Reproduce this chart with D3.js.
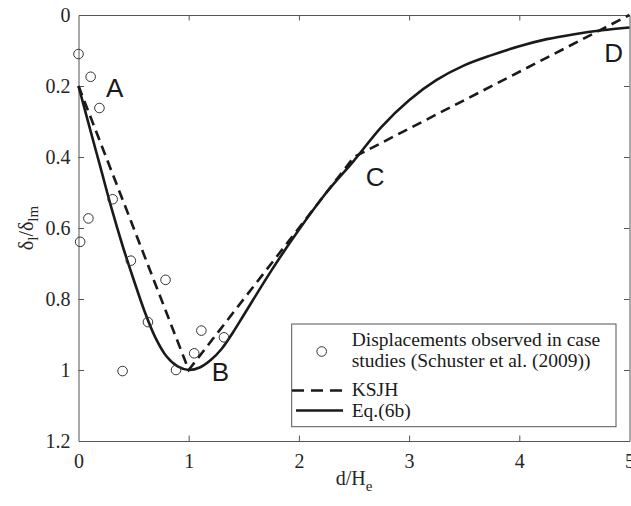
<!DOCTYPE html>
<html>
<head>
<meta charset="utf-8">
<script src="https://cdn.jsdelivr.net/npm/d3@7"></script>
<style>
  body { margin: 0; background: #fff; }
  svg { display: block; }
</style>
</head>
<body>
<div id="chart"></div>
<script>
// observed case-study displacements (Schuster et al. 2009)
const obsX = [0.0, 0.11, 0.19, 0.31, 0.09, 0.015, 0.475, 0.79, 0.63, 1.115, 1.32, 1.05, 0.885, 0.40];
const obsY = [0.11, 0.174, 0.262, 0.519, 0.573, 0.639, 0.692, 0.746, 0.865, 0.889, 0.908, 0.953, 1.0, 1.003];

// KSJH trilinear envelope
const ksjhX = [0, 1, 2.5, 5];
const ksjhY = [0.2, 1, 0.4, 0];

// Eq.(6b) curve
const eqX = [0, 0.1, 0.2, 0.3, 0.4, 0.5, 0.6, 0.7, 0.8, 0.9, 1.0, 1.1, 1.2, 1.3, 1.4, 1.5, 1.75, 2.0, 2.25, 2.5, 2.75, 3.0, 3.25, 3.5, 3.75, 4.0, 4.25, 4.5, 4.75, 5.0];
const eqY = [0.2, 0.316, 0.43, 0.545, 0.65, 0.745, 0.835, 0.91, 0.962, 0.99, 1.0, 0.993, 0.972, 0.94, 0.895, 0.845, 0.72, 0.605, 0.5, 0.41, 0.315, 0.24, 0.183, 0.142, 0.113, 0.088, 0.068, 0.054, 0.043, 0.035];

// point labels
const annText = ["A", "B", "C", "D"];
const annX = [0.25, 1.21, 2.606, 4.77];
const annY = [0.231, 1.03, 0.481, 0.133];

const xTicks = [0, 1, 2, 3, 4, 5];
const yTicks = [0, 0.2, 0.4, 0.6, 0.8, 1, 1.2];

const legendLabels = [["Displacements observed in case", "studies (Schuster et al. (2009))"], ["KSJH"], ["Eq.(6b)"]];

const width = 631, height = 506;
const mLeft = 78.5, mRight = 629.5, mTop = 15, mBottom = 441;
const axisColor = "#555";
const lineColor = "#1a1a1a";
const serif = "'Liberation Serif', 'Times New Roman', Times, 'DejaVu Serif', serif";

const x = d3.scaleLinear().domain([0, 5]).range([mLeft, mRight]);
const y = d3.scaleLinear().domain([0, 1.2]).range([mTop, mBottom]);

const svg = d3.select("#chart").append("svg")
  .attr("width", width)
  .attr("height", height);

// axes (MATLAB-style box with inward ticks)
const fmt = d => d3.format("~g")(d);
const tick = 5.5;

const gx = svg.append("g").attr("transform", `translate(0,${mBottom})`)
  .call(d3.axisBottom(x).tickValues(xTicks).tickFormat(fmt).tickSizeInner(-tick).tickSizeOuter(0).tickPadding(13));
const gxTop = svg.append("g").attr("transform", `translate(0,${mTop})`)
  .call(d3.axisTop(x).tickValues(xTicks).tickFormat("").tickSizeInner(-tick).tickSizeOuter(0));
const gy = svg.append("g").attr("transform", `translate(${mLeft},0)`)
  .call(d3.axisLeft(y).tickValues(yTicks).tickFormat(fmt).tickSizeInner(-tick).tickSizeOuter(0).tickPadding(8));
const gyRight = svg.append("g").attr("transform", `translate(${mRight},0)`)
  .call(d3.axisRight(y).tickValues(yTicks).tickFormat("").tickSizeInner(-tick).tickSizeOuter(0));

[gx, gxTop, gy, gyRight].forEach(g => {
  g.attr("font-family", serif).attr("font-size", 20);
  g.select(".domain").attr("stroke", axisColor);
  g.selectAll(".tick line").attr("stroke", axisColor);
  g.selectAll(".tick text").attr("fill", "#262626");
});
// hide end ticks that sit on the box corners
gxTop.selectAll(".tick line").filter(d => d === 0 || d === 5).remove();
gx.selectAll(".tick line").filter(d => d === 0 || d === 5).remove();
gy.selectAll(".tick line").filter(d => d === 0 || d === 1.2).remove();
gyRight.selectAll(".tick line").filter(d => d === 0 || d === 1.2).remove();

// curves
const line = d3.line().x(d => x(d[0])).y(d => y(d[1]));

svg.append("path")
  .datum(ksjhX.map((v, i) => [v, ksjhY[i]]))
  .attr("d", line)
  .attr("fill", "none")
  .attr("stroke", lineColor)
  .attr("stroke-width", 2.6)
  .attr("stroke-dasharray", "10,6");

svg.append("path")
  .datum(eqX.map((v, i) => [v, eqY[i]]))
  .attr("d", line.curve(d3.curveCatmullRom.alpha(0.5)))
  .attr("fill", "none")
  .attr("stroke", lineColor)
  .attr("stroke-width", 2.6);

// observations
svg.append("g").selectAll("circle")
  .data(obsX.map((v, i) => [v, obsY[i]]))
  .enter().append("circle")
  .attr("cx", d => x(d[0]))
  .attr("cy", d => y(d[1]))
  .attr("r", 4.8)
  .attr("fill", "none")
  .attr("stroke", "#333")
  .attr("stroke-width", 1);

// A, B, C, D
svg.append("g").selectAll("text")
  .data(annText)
  .enter().append("text")
  .attr("x", (d, i) => x(annX[i]))
  .attr("y", (d, i) => y(annY[i]))
  .attr("font-family", "'Liberation Sans', Arial, sans-serif")
  .attr("font-size", 26)
  .attr("fill", "#1a1a1a")
  .text(d => d);

// axis labels
const xl = svg.append("text")
  .attr("x", (mLeft + mRight) / 2)
  .attr("y", 485)
  .attr("text-anchor", "middle")
  .attr("font-family", serif)
  .attr("font-size", 20)
  .attr("fill", "#262626");
xl.append("tspan").text("d/H");
xl.append("tspan").attr("font-size", 15).attr("dy", 6).text("e");

const yl = svg.append("text")
  .attr("transform", `translate(33,${(mTop + mBottom) / 2}) rotate(-90)`)
  .attr("text-anchor", "middle")
  .attr("font-family", serif)
  .attr("font-size", 20)
  .attr("fill", "#262626");
yl.append("tspan").text("δ");
yl.append("tspan").attr("font-size", 15).attr("dy", 5).text("l");
yl.append("tspan").attr("dy", -5).text("/δ");
yl.append("tspan").attr("font-size", 15).attr("dy", 5).text("lm");

// legend
const lg = svg.append("g");
lg.append("rect")
  .attr("x", 291.7).attr("y", 324)
  .attr("width", 324.3).attr("height", 102.7)
  .attr("fill", "#fff")
  .attr("stroke", axisColor)
  .attr("stroke-width", 1);

lg.append("circle")
  .attr("cx", 321.7).attr("cy", 351.5)
  .attr("r", 4.8)
  .attr("fill", "none").attr("stroke", "#333");

lg.append("line")
  .attr("x1", 292).attr("x2", 343).attr("y1", 390.5).attr("y2", 390.5)
  .attr("stroke", lineColor).attr("stroke-width", 2.6)
  .attr("stroke-dasharray", "12,7");
lg.append("line")
  .attr("x1", 296).attr("x2", 343).attr("y1", 410.5).attr("y2", 410.5)
  .attr("stroke", lineColor).attr("stroke-width", 2.6);

const legendY = [[346, 367], [395.5], [416.5]];
legendLabels.forEach((lines, i) => {
  lines.forEach((t, j) => {
    lg.append("text")
      .attr("x", 351.7)
      .attr("y", legendY[i][j])
      .attr("font-family", serif)
      .attr("font-size", 19.5)
      .attr("fill", "#1a1a1a")
      .text(t);
  });
});
</script>
</body>
</html>
